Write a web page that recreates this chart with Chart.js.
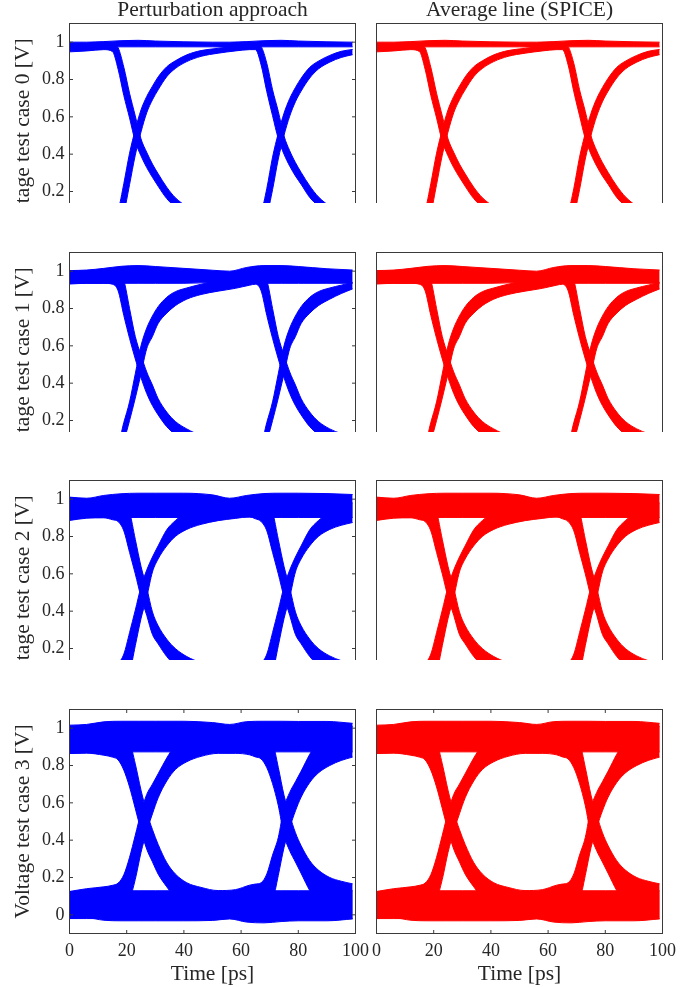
<!DOCTYPE html>
<html>
<head>
<meta charset="utf-8">
<script src="https://cdn.jsdelivr.net/npm/chart.js@4.4.1/dist/chart.umd.min.js"></script>
<style>
  html, body { margin: 0; padding: 0; background: #ffffff; }
  body { width: 700px; height: 987px; position: relative; overflow: hidden; }
  .wrap { position: absolute; overflow: hidden; }
  .wrap canvas { position: absolute; left: 0; top: 0; }
</style>
</head>
<body>
<script>
// ---------------- DATA ----------------
const COLUMN_TITLES = ['Perturbation approach', 'Average line (SPICE)'];
const CASE_LABELS = ['Voltage test case 0 [V]', 'Voltage test case 1 [V]', 'Voltage test case 2 [V]', 'Voltage test case 3 [V]'];
const X_TITLE = 'Time [ps]';
const X_TICKS = [0, 20, 40, 60, 80, 100];
const Y_TICKS = [0, 0.2, 0.4, 0.6, 0.8, 1];

// time grid (ps) for the flat high / low levels
const X_LEVEL = [0, 6, 12, 18, 24, 30, 40, 50, 56, 62, 68, 74, 80, 90, 99];
// time grid (ps) for the transition bundles
const X_EDGE = [0, 6, 12, 15, 17, 19, 21, 23, 25, 27, 29, 31, 34, 37, 41, 46, 52, 58, 63, 65, 67, 69, 71, 73, 75, 77, 79, 81, 84, 87, 91, 95, 99];

// ---- case 0 ----
const TOP0_HI = [1.0, 1.0, 1.003, 1.008, 1.01, 1.006, 1.002, 1.0, 1.0, 1.003, 1.008, 1.01, 1.006, 1.002, 1.0];
const TOP0_LO = [0.975, 0.975, 0.975, 0.975, 0.975, 0.975, 0.975, 0.975, 0.972, 0.972, 0.975, 0.975, 0.975, 0.975, 0.975];
const BOT0_HI = [0.025, 0.025, 0.022, 0.02, 0.02, 0.022, 0.025, 0.025, 0.028, 0.028, 0.025, 0.022, 0.022, 0.025, 0.025];
const BOT0_LO = [0.0, 0.0, -0.003, -0.008, -0.01, -0.006, -0.002, 0.0, 0.0, -0.003, -0.008, -0.01, -0.006, -0.002, 0.0];
const A0_HI = [0.99, 0.99, 0.99, 0.99, 0.97, 0.865, 0.726, 0.605, 0.482, 0.41, 0.347, 0.295, 0.223, 0.167, 0.12, 0.082, 0.057, 0.047, 0.045, 0.04, 0.087, 0.217, 0.384, 0.512, 0.619, 0.698, 0.757, 0.807, 0.865, 0.898, 0.929, 0.951, 0.961];
const A0_LO = [0.948, 0.953, 0.96, 0.95, 0.855, 0.714, 0.594, 0.468, 0.391, 0.328, 0.276, 0.228, 0.162, 0.118, 0.082, 0.05, 0.033, 0.025, 0.02, 0.0, 0.0, 0.071, 0.21, 0.374, 0.501, 0.604, 0.681, 0.738, 0.808, 0.856, 0.893, 0.918, 0.933];
const B0_HI = [0.05, 0.05, 0.045, 0.04, 0.098, 0.243, 0.405, 0.531, 0.637, 0.709, 0.764, 0.814, 0.868, 0.9, 0.932, 0.955, 0.967, 0.978, 0.99, 0.99, 0.976, 0.886, 0.745, 0.629, 0.498, 0.418, 0.355, 0.302, 0.23, 0.172, 0.122, 0.092, 0.072];
const B0_LO = [0.0, 0.0, 0.0, 0.0, 0.0, 0.084, 0.237, 0.395, 0.519, 0.622, 0.691, 0.745, 0.815, 0.859, 0.896, 0.924, 0.941, 0.953, 0.96, 0.96, 0.878, 0.734, 0.606, 0.483, 0.4, 0.336, 0.283, 0.238, 0.168, 0.123, 0.078, 0.048, 0.033];

// ---- case 1 ----
const TOP1_HI = [1.003, 1.006, 1.015, 1.026, 1.03, 1.025, 1.015, 1.005, 1.0, 1.02, 1.03, 1.03, 1.025, 1.013, 1.006];
const TOP1_LO = [0.935, 0.935, 0.935, 0.935, 0.935, 0.935, 0.935, 0.94, 0.944, 0.94, 0.935, 0.935, 0.935, 0.935, 0.935];
const BOT1_HI = [0.065, 0.065, 0.065, 0.065, 0.065, 0.065, 0.065, 0.06, 0.056, 0.06, 0.065, 0.065, 0.065, 0.065, 0.065];
const BOT1_LO = [-0.003, -0.006, -0.015, -0.026, -0.03, -0.025, -0.015, -0.005, 0.0, -0.02, -0.03, -0.03, -0.025, -0.013, -0.006];
const A1_HI = [1.0, 1.0, 1.0, 1.0, 0.99, 0.95, 0.8, 0.65, 0.55, 0.46, 0.39, 0.317, 0.245, 0.195, 0.155, 0.12, 0.1, 0.09, 0.09, 0.07, 0.08, 0.19, 0.3, 0.45, 0.6, 0.695, 0.76, 0.81, 0.86, 0.89, 0.91, 0.925, 0.94];
const A1_LO = [0.931, 0.935, 0.935, 0.93, 0.895, 0.762, 0.64, 0.53, 0.43, 0.345, 0.28, 0.23, 0.167, 0.125, 0.085, 0.055, 0.04, 0.035, 0.03, 0.0, 0.01, 0.09, 0.2, 0.32, 0.45, 0.585, 0.65, 0.72, 0.775, 0.815, 0.85, 0.88, 0.905];
const B1_HI = [0.1, 0.09, 0.08, 0.07, 0.08, 0.19, 0.3, 0.45, 0.6, 0.695, 0.76, 0.81, 0.86, 0.89, 0.91, 0.93, 0.95, 0.97, 1.0, 1.0, 0.99, 0.95, 0.8, 0.65, 0.55, 0.46, 0.39, 0.317, 0.245, 0.195, 0.155, 0.13, 0.115];
const B1_LO = [0.0, 0.0, 0.0, 0.0, 0.01, 0.09, 0.2, 0.32, 0.45, 0.585, 0.65, 0.72, 0.775, 0.815, 0.85, 0.875, 0.893, 0.908, 0.925, 0.93, 0.895, 0.762, 0.64, 0.53, 0.43, 0.345, 0.28, 0.23, 0.167, 0.125, 0.085, 0.06, 0.05];

// ---- case 2 ----
const TOP2_HI = [1.011, 1.005, 1.02, 1.029, 1.032, 1.032, 1.032, 1.023, 1.005, 1.02, 1.03, 1.032, 1.032, 1.03, 1.025];
const TOP2_LO = [0.902, 0.902, 0.902, 0.902, 0.902, 0.902, 0.902, 0.905, 0.907, 0.905, 0.902, 0.902, 0.902, 0.902, 0.902];
const BOT2_HI = [0.098, 0.098, 0.098, 0.098, 0.098, 0.098, 0.098, 0.095, 0.093, 0.095, 0.098, 0.098, 0.098, 0.098, 0.098];
const BOT2_LO = [-0.011, -0.005, -0.02, -0.029, -0.032, -0.032, -0.032, -0.023, -0.005, -0.02, -0.03, -0.032, -0.032, -0.03, -0.025];
const A2_HI = [1.0, 1.0, 1.0, 1.0, 1.0, 0.98, 0.93, 0.785, 0.64, 0.525, 0.396, 0.322, 0.25, 0.2, 0.157, 0.125, 0.11, 0.105, 0.1, 0.1, 0.12, 0.17, 0.285, 0.405, 0.53, 0.62, 0.69, 0.75, 0.836, 0.885, 0.93, 0.96, 0.98];
const A2_LO = [0.886, 0.898, 0.9, 0.89, 0.88, 0.83, 0.715, 0.6, 0.476, 0.378, 0.275, 0.225, 0.157, 0.11, 0.07, 0.04, 0.03, 0.03, 0.0, 0.0, 0.0, 0.02, 0.07, 0.215, 0.36, 0.475, 0.61, 0.68, 0.75, 0.8, 0.838, 0.86, 0.875];
const B2_HI = [0.115, 0.105, 0.1, 0.1, 0.12, 0.17, 0.285, 0.405, 0.53, 0.62, 0.69, 0.75, 0.836, 0.885, 0.93, 0.96, 0.99, 1.0, 1.0, 1.0, 1.0, 0.98, 0.93, 0.785, 0.64, 0.525, 0.396, 0.322, 0.25, 0.2, 0.16, 0.135, 0.12];
const B2_LO = [0.0, 0.0, 0.0, 0.0, 0.0, 0.02, 0.07, 0.215, 0.36, 0.475, 0.61, 0.68, 0.75, 0.8, 0.838, 0.865, 0.885, 0.897, 0.905, 0.895, 0.88, 0.83, 0.715, 0.6, 0.476, 0.378, 0.275, 0.225, 0.157, 0.11, 0.07, 0.05, 0.04];

// ---- case 3 ----
const TOP3_HI = [1.016, 1.02, 1.034, 1.037, 1.037, 1.037, 1.037, 1.03, 1.02, 1.035, 1.037, 1.037, 1.036, 1.036, 1.026];
const TOP3_LO = [0.873, 0.873, 0.873, 0.873, 0.873, 0.873, 0.873, 0.87, 0.868, 0.87, 0.873, 0.873, 0.873, 0.873, 0.873];
const BOT3_HI = [0.125, 0.127, 0.129, 0.129, 0.129, 0.129, 0.129, 0.127, 0.125, 0.127, 0.129, 0.129, 0.129, 0.129, 0.129];
const BOT3_LO = [-0.02, -0.016, -0.029, -0.032, -0.032, -0.032, -0.032, -0.03, -0.022, -0.039, -0.043, -0.036, -0.032, -0.032, -0.022];
const A3_HI = [1.0, 1.0, 1.0, 1.0, 1.0, 0.97, 0.93, 0.809, 0.668, 0.55, 0.457, 0.377, 0.28, 0.219, 0.172, 0.147, 0.13, 0.135, 0.159, 0.165, 0.172, 0.219, 0.32, 0.414, 0.574, 0.656, 0.713, 0.77, 0.86, 0.93, 0.98, 1.0, 1.01];
const A3_LO = [0.864, 0.866, 0.855, 0.845, 0.83, 0.775, 0.685, 0.57, 0.453, 0.352, 0.284, 0.218, 0.15, 0.09, 0.03, 0.0, -0.01, -0.01, -0.01, -0.01, -0.01, 0.0, 0.07, 0.211, 0.36, 0.467, 0.557, 0.631, 0.709, 0.76, 0.8, 0.827, 0.845];
const B3_HI = [0.125, 0.14, 0.15, 0.158, 0.17, 0.215, 0.308, 0.426, 0.548, 0.645, 0.70, 0.756, 0.84, 0.91, 0.96, 1.0, 1.0, 1.0, 1.0, 1.0, 0.98, 0.94, 0.92, 0.79, 0.641, 0.534, 0.44, 0.37, 0.29, 0.24, 0.2, 0.18, 0.166];
const B3_LO = [-0.02, -0.02, -0.02, -0.01, 0.0, 0.03, 0.08, 0.19, 0.334, 0.448, 0.541, 0.627, 0.717, 0.778, 0.82, 0.849, 0.865, 0.865, 0.857, 0.846, 0.835, 0.788, 0.703, 0.586, 0.427, 0.343, 0.283, 0.222, 0.13, 0.06, 0.01, -0.01, -0.02];

// ---------------- STYLE / LAYOUT ----------------
const COLORS = ['#0000ff', '#ff0000'];
const FONT_FAMILY = "'Liberation Serif', 'Times New Roman', serif";
const TEXT_COLOR = '#262626';
const AXIS_COLOR = '#3a3a3a';
const TICK_FONT = { family: FONT_FAMILY, size: 18 };
const LABEL_FONT = { family: FONT_FAMILY, size: 21.5, lineHeight: 1.2 };
const TITLE_FONT = { family: FONT_FAMILY, size: 21.5, lineHeight: 1 };

const ROW_CANVAS_TOP = [0, 242, 470, 699];
const ROW_CANVAS_H = [258, 258, 258, 288];
const ROW_PLOT_TOP = [23.5, 252.5, 480.5, 709.5];
const ROW_CROP_BOTTOM = [203, 432, 660, 987];
const PLOT_H = 224;
const COL_CANVAS_LEFT = [0, 360];
const COL_CANVAS_W = [375, 340];
const COL_PLOT_LEFT = [69.5, 376.5];
const COL_PLOT_RIGHT = [355.5, 662.5];
const TICK_LEN = 3.5;

const CASES = [
  { top: [TOP0_LO, TOP0_HI], bot: [BOT0_LO, BOT0_HI], a: [A0_LO, A0_HI], b: [B0_LO, B0_HI] },
  { top: [TOP1_LO, TOP1_HI], bot: [BOT1_LO, BOT1_HI], a: [A1_LO, A1_HI], b: [B1_LO, B1_HI] },
  { top: [TOP2_LO, TOP2_HI], bot: [BOT2_LO, BOT2_HI], a: [A2_LO, A2_HI], b: [B2_LO, B2_HI] },
  { top: [TOP3_LO, TOP3_HI], bot: [BOT3_LO, BOT3_HI], a: [A3_LO, A3_HI], b: [B3_LO, B3_HI] }
];

const boxTicksPlugin = {
  id: 'boxTicks',
  afterDatasetsDraw(chart, args, opts) {
    const { ctx, chartArea: a, scales } = chart;
    ctx.save();
    ctx.strokeStyle = AXIS_COLOR;
    ctx.lineWidth = 1;
    ctx.strokeRect(a.left, a.top, a.right - a.left, a.bottom - a.top);
    ctx.beginPath();
    if (opts.yTicks) {
      for (const v of Y_TICKS) {
        const y = scales.y.getPixelForValue(v);
        ctx.moveTo(a.left, y); ctx.lineTo(a.left + TICK_LEN, y);
        ctx.moveTo(a.right, y); ctx.lineTo(a.right - TICK_LEN, y);
      }
    }
    if (opts.xTicks) {
      for (const v of X_TICKS) {
        const x = scales.x.getPixelForValue(v);
        ctx.moveTo(x, a.top); ctx.lineTo(x, a.top + TICK_LEN);
        ctx.moveTo(x, a.bottom); ctx.lineTo(x, a.bottom - TICK_LEN);
      }
    }
    ctx.stroke();
    ctx.restore();
  }
};

function bandDatasets(xs, pair, color) {
  const common = {
    borderColor: color, backgroundColor: color, borderWidth: 1,
    pointRadius: 0, pointHoverRadius: 0, cubicInterpolationMode: 'monotone',
    xAxisID: 'x', yAxisID: 'y'
  };
  return [
    Object.assign({}, common, { data: xs.map((x, i) => ({ x: x, y: pair[0][i] })), fill: false }),
    Object.assign({}, common, { data: xs.map((x, i) => ({ x: x, y: pair[1][i] })), fill: '-1' })
  ];
}

function makePanel(r, c) {
  const wrap = document.createElement('div');
  wrap.className = 'wrap';
  const cTop = ROW_CANVAS_TOP[r];
  const cH = ROW_CANVAS_H[r];
  const cW = COL_CANVAS_W[c];
  const cLeft = COL_CANVAS_LEFT[c];
  wrap.style.left = cLeft + 'px';
  wrap.style.top = cTop + 'px';
  wrap.style.width = cW + 'px';
  wrap.style.height = (ROW_CROP_BOTTOM[r] - cTop) + 'px';
  wrap.style.zIndex = String(c + 1);
  const canvas = document.createElement('canvas');
  canvas.width = cW; canvas.height = cH;
  canvas.style.width = cW + 'px'; canvas.style.height = cH + 'px';
  wrap.appendChild(canvas);
  document.body.appendChild(wrap);

  const color = COLORS[c];
  const cs = CASES[r];
  const datasets = [].concat(
    bandDatasets(X_LEVEL, cs.top, color),
    bandDatasets(X_LEVEL, cs.bot, color),
    bandDatasets(X_EDGE, cs.a, color),
    bandDatasets(X_EDGE, cs.b, color)
  );

  const showX = r === 3;
  const showY = c === 0;
  const plotTopInCanvas = ROW_PLOT_TOP[r] - cTop;
  const padTop = r === 0 ? 0 : plotTopInCanvas;
  const padBottom = showX ? 0 : cH - plotTopInCanvas - PLOT_H;
  const xAxisH = cH - plotTopInCanvas - PLOT_H;
  const padLeft = showY ? 0 : COL_PLOT_LEFT[c] - cLeft;
  const padRight = cW - (COL_PLOT_RIGHT[c] - cLeft);

  const scales = {
    x: {
      type: 'linear', min: 0, max: 100, position: 'bottom',
      display: showX,
      grid: { display: false, drawTicks: false },
      border: { display: false },
      afterBuildTicks: s => { s.ticks = X_TICKS.map(v => ({ value: v })); },
      afterFit: s => {
        if (showX) s.height = xAxisH;
        s.paddingLeft = 0; s.paddingRight = 0; s.paddingTop = 0; s.paddingBottom = 0;
      },
      ticks: { font: TICK_FONT, color: TEXT_COLOR, padding: 7, maxRotation: 0, autoSkip: false, callback: v => String(v) },
      title: { display: true, text: X_TITLE, font: LABEL_FONT, color: TEXT_COLOR, padding: { top: 0, bottom: 0 } }
    },
    y: {
      type: 'linear', min: -0.1, max: 1.1, position: 'left',
      display: showY,
      grid: { display: false, drawTicks: false },
      border: { display: false },
      afterBuildTicks: s => { s.ticks = Y_TICKS.map(v => ({ value: v })); },
      afterFit: s => {
        if (showY) s.width = COL_PLOT_LEFT[0] - COL_CANVAS_LEFT[0];
        s.paddingLeft = 0; s.paddingRight = 0; s.paddingTop = 0; s.paddingBottom = 0;
      },
      ticks: { font: TICK_FONT, color: TEXT_COLOR, padding: 5, autoSkip: false, callback: v => String(Math.round(v * 10) / 10) },
      title: { display: true, text: CASE_LABELS[r], font: LABEL_FONT, color: TEXT_COLOR, padding: { top: 10.5, bottom: 0 } }
    }
  };
  if (r === 0) {
    scales.xTop = {
      type: 'linear', min: 0, max: 100, position: 'top', display: true,
      grid: { display: false, drawTicks: false },
      border: { display: false },
      ticks: { display: false },
      afterFit: s => {
        s.height = plotTopInCanvas;
        s.paddingLeft = 0; s.paddingRight = 0; s.paddingTop = 0; s.paddingBottom = 0;
      },
      title: { display: true, text: COLUMN_TITLES[c], font: TITLE_FONT, color: TEXT_COLOR, padding: { top: 0, bottom: 0 } }
    };
  }

  new Chart(canvas, {
    type: 'line',
    data: { datasets: datasets },
    options: {
      responsive: false,
      maintainAspectRatio: false,
      devicePixelRatio: 1,
      animation: false,
      events: [],
      layout: { padding: { left: padLeft, right: padRight, top: padTop, bottom: padBottom } },
      plugins: {
        legend: { display: false },
        tooltip: { enabled: false },
        title: { display: false },
        boxTicks: { yTicks: showY, xTicks: showX }
      },
      scales: scales
    },
    plugins: [boxTicksPlugin]
  });
}

for (let r = 0; r < 4; r++) {
  for (let c = 0; c < 2; c++) {
    makePanel(r, c);
  }
}
</script>
</body>
</html>
